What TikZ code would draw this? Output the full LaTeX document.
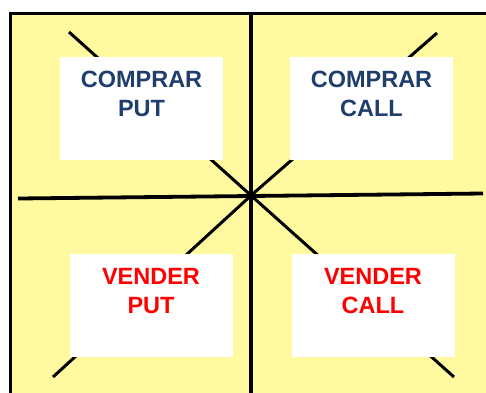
\documentclass[tikz,border=0pt]{standalone}
\usepackage{fontspec}
\setmainfont{Liberation Sans}
\definecolor{bgyellow}{RGB}{255,250,160}
\definecolor{darkblue}{RGB}{31,62,110}
\definecolor{sellred}{RGB}{255,0,0}
\begin{document}
\begin{tikzpicture}[x=1pt,y=-1pt,
  axis/.style={line width=3.4pt,black},
  diag/.style={line width=3pt,black},
  frame/.style={line width=3pt,black},
  optbox/.style={fill=white,draw=none,inner sep=0pt,anchor=north,
    minimum width=163pt,text width=163pt,align=center,
    text height=30pt,text depth=73pt,
    font=\fontsize{23.5}{29}\selectfont\bfseries},
  buy/.style={optbox,text=darkblue},
  sell/.style={optbox,text=sellred}]
\useasboundingbox (0,0) rectangle (486,392);
% background
\fill[bgyellow] (10,13) rectangle (490,396);
% star centre and free ends
\coordinate (c) at (251,195.5);
\coordinate (dTL) at (69,32);
\coordinate (dTR) at (437,33);
\coordinate (dBL) at (53,377);
\coordinate (dBR) at (454,377);
\coordinate (vT) at (251,13);
\coordinate (vB) at (251,394);
\coordinate (hL) at (18,198.5);
\coordinate (hR) at (483,193.5);
% lines
\draw[diag] (dTL) -- (c);
\draw[diag] (dTR) -- (c);
\draw[diag] (dBL) -- (c);
\draw[diag] (dBR) -- (c);
\draw[axis] (vT) -- (vB);
\draw[axis,line width=3.8pt] (hL) -- (hR);
% boxes
\node[buy] (cp) at (141.5,57) {COMPRAR\\PUT};
\node[buy] (cc) at (371.5,57) {COMPRAR\\CALL};
\node[sell] (vp) at (151,254) {VENDER\\PUT};
\node[sell] (vc) at (373,254) {VENDER\\CALL};
% frame
\coordinate (fTR) at (490,13);
\coordinate (fTL) at (10.5,13);
\coordinate (fBL) at (10.5,396);
\draw[frame] (fTR) -- (fTL) -- (fBL);
\end{tikzpicture}
\end{document}
